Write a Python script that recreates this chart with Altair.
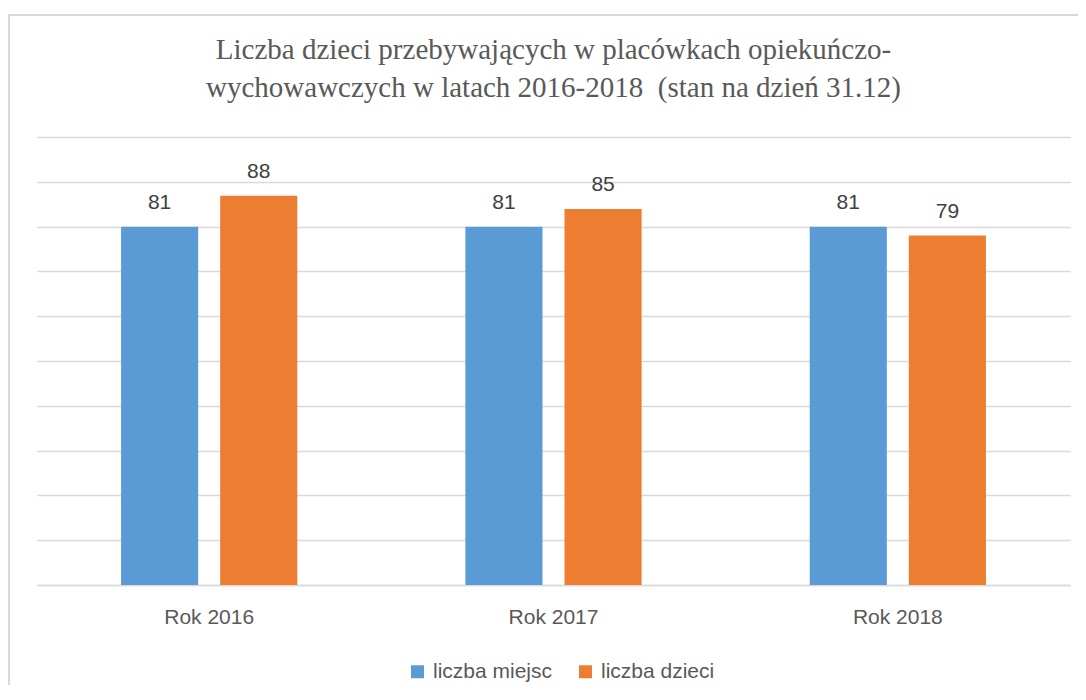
import altair as alt
import pandas as pd

years = ["Rok 2016", "Rok 2017", "Rok 2018"]
series = ["liczba miejsc", "liczba dzieci"]
miejsca = [81, 81, 81]
dzieci = [88, 85, 79]
colors = ["#5B9BD5", "#ED7D31"]

rows = []
for i, y in enumerate(years):
    rows.append({"rok": y, "seria": series[0], "wartosc": miejsca[i]})
    rows.append({"rok": y, "seria": series[1], "wartosc": dzieci[i]})
df = pd.DataFrame(rows)

W, H = 1033, 448
YMAX = 101.3
grid_vals = [YMAX * i / 10 for i in range(11)]

x = alt.X("rok:N", sort=years, title=None,
          scale=alt.Scale(paddingInner=0, paddingOuter=0),
          axis=alt.Axis(labelAngle=0, labelFont="Liberation Sans", labelFontSize=21,
                        labelColor="#595959", labelPadding=21, ticks=False,
                        domainColor="#D9D9D9", domainWidth=1.5))
xo = alt.XOffset("seria:N", sort=series,
                 scale=alt.Scale(domain=series, paddingInner=0.222, paddingOuter=0.848))
y = alt.Y("wartosc:Q", title=None,
          scale=alt.Scale(domain=[0, YMAX], nice=False),
          axis=alt.Axis(values=grid_vals, labels=False, ticks=False,
                        domain=False, gridColor="#D9D9D9", gridWidth=1.5))

bars = alt.Chart(df).mark_bar().encode(
    x=x, xOffset=xo, y=y,
    color=alt.Color("seria:N", sort=series,
                    scale=alt.Scale(domain=series, range=colors),
                    legend=alt.Legend(title=None, orient="none", direction="horizontal",
                                      legendX=370, legendY=524,
                                      symbolType="square", symbolSize=169,
                                      symbolStrokeWidth=0,
                                      labelFont="Liberation Sans", labelFontSize=21,
                                      labelColor="#595959", columnPadding=22,
                                      labelOffset=5)),
)

labels = alt.Chart(df).mark_text(
    baseline="bottom", dy=-14, font="Liberation Sans", fontSize=21, color="#404040"
).encode(x=alt.X("rok:N", sort=years), xOffset=alt.XOffset("seria:N", sort=series),
         y="wartosc:Q", text="wartosc:Q")

frame = alt.Chart(alt.Data(values=[{}])).mark_rect(
    fill=None, stroke="#D9D9D9", strokeWidth=2
).encode(x=alt.value(-28), x2=alt.value(W + 100), y=alt.value(-122), y2=alt.value(H + 200))

chart = alt.layer(frame, bars, labels).properties(
    width=W, height=H,
    title=alt.TitleParams(
        ["Liczba dzieci przebywających w placówkach opiekuńczo-",
         "wychowawczych w latach 2016-2018 \u00a0(stan na dzień 31.12)"],
        font="Liberation Serif", fontSize=29, fontWeight="normal", color="#595959",
        anchor="middle", lineHeight=38, offset=30, dy=119),
    padding={"left": 29, "top": 129, "right": 8, "bottom": 100},
    autosize=alt.AutoSizeParams(type="none"),
).configure_view(stroke=None)

chart.save("out.html", embed_options={"renderer": "svg", "actions": False})
